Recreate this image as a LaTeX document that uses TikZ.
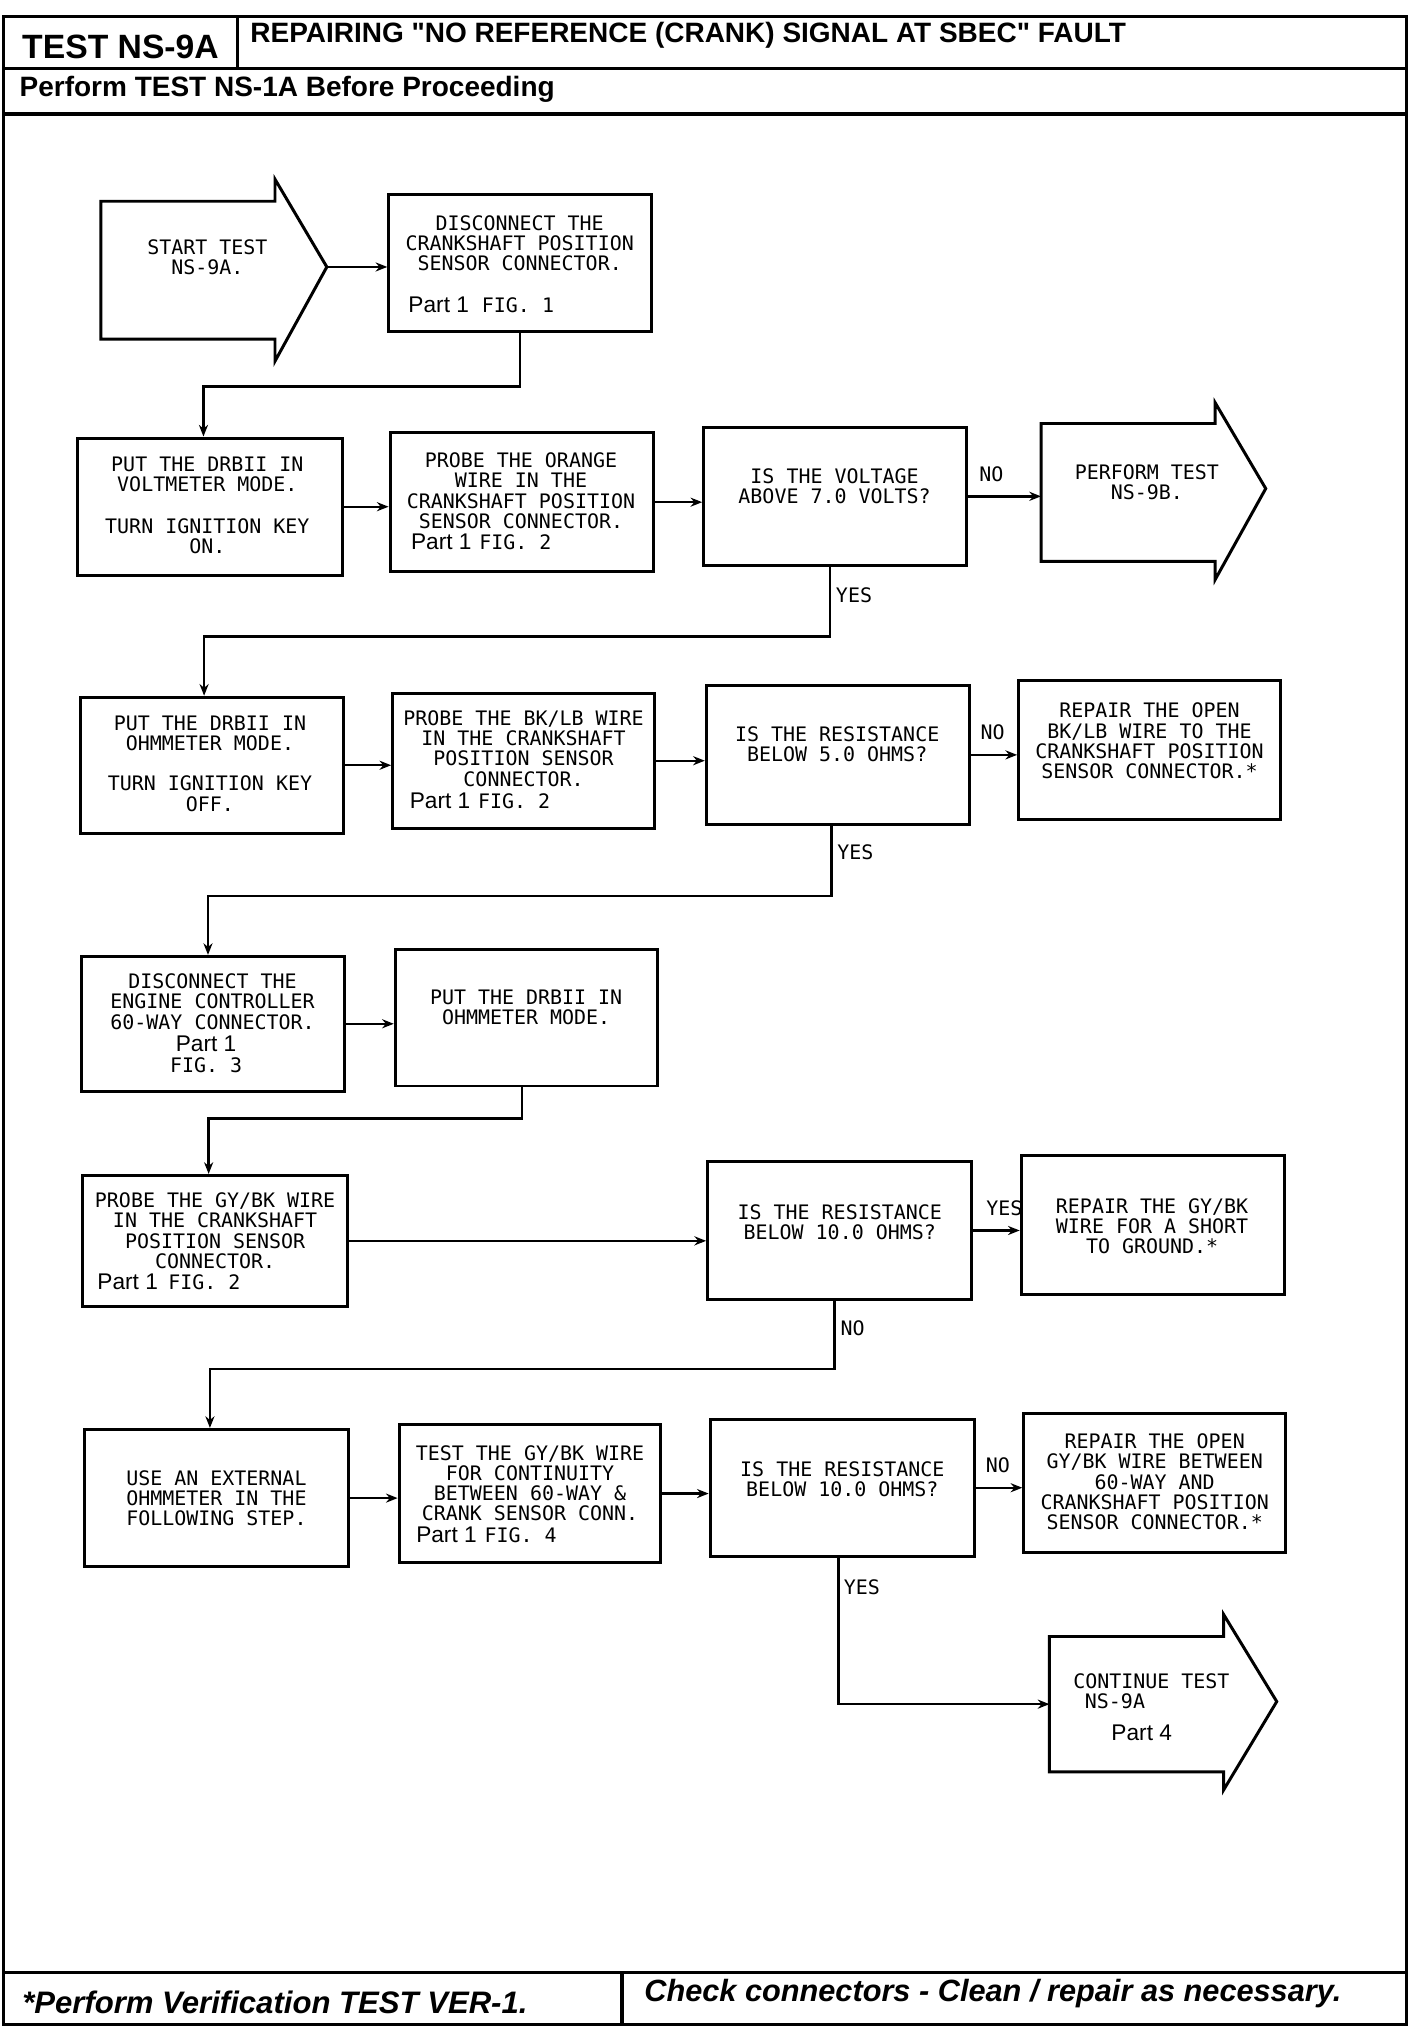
\documentclass[tikz,border=0pt]{standalone}
\usepackage{fontspec}
\setmainfont{Liberation Sans}
\newfontfamily\monofam{DejaVu Sans Mono}
\newfontfamily\titlefam{Liberation Sans}[Ligatures=TeXOff]
\usetikzlibrary{arrows.meta,calc}
\newcommand\boxfont{\monofam\fontsize{15.4}{15.5}\selectfont}
\newcommand\partfont{\rmfamily\fontsize{17.5}{17.5}\selectfont}
\tikzset{
  frameline/.style={line width=2.4pt},
  box/.style={draw, line width=2.3pt, inner sep=0pt, minimum width=#1},
  box/.default=203pt,
  ghost/.style={inner sep=0pt, minimum width=134pt, minimum height=106pt},
  shapeline/.style={line width=2.3pt, line join=miter},
  txt/.style={font=\boxfont, align=center, inner sep=0pt, anchor=north},
  partline/.style={font=\boxfont, inner sep=0pt, anchor=base west},
  lbl/.style={font=\boxfont, inner sep=0pt},
  arr/.style={line width=1.8pt, -{Stealth[length=9pt,width=7pt]}},
}
\begin{document}
\begin{tikzpicture}[x=1pt,y=-1pt]
\useasboundingbox (0,0) rectangle (1099,1568);
% frame
\draw[frameline] (3,13) rectangle (1085,1562);
\draw[frameline] (3,53) -- (1085,53);
\draw[frameline] (3,88) -- (1085,88);
\draw[frameline] (183,13) -- (183,53);
\draw[frameline] (3,1522) -- (1085,1522);
\draw[frameline] (480,1522) -- (480,1562);
\node[inner sep=0pt, font=\bfseries\fontsize{26}{26}\selectfont] (t1) at (93,36) {TEST NS-9A};
\node[inner sep=0pt, anchor=west, font=\titlefam\bfseries\fontsize{21.6}{21.6}\selectfont] (t2) at (193,27) {REPAIRING "NO REFERENCE (CRANK) SIGNAL AT SBEC" FAULT};
\node[inner sep=0pt, anchor=west, font=\bfseries\fontsize{21.6}{21.6}\selectfont] (t3) at (15,69) {Perform TEST NS-1A Before Proceeding};
\node[inner sep=0pt, anchor=west, font=\bfseries\itshape\fontsize{24}{24}\selectfont] (f1) at (17,1545) {*Perform Verification TEST VER-1.};
\node[inner sep=0pt, anchor=west, font=\bfseries\itshape\fontsize{23.7}{23.7}\selectfont] (f2) at (497,1538) {Check connectors - Clean / repair as necessary.};

% start arrow
\node[ghost] (s) at (145,208.5) {};
\coordinate (stip) at ($(s.east)+(40,-2.5)$);
\draw[shapeline] (s.north west) -- (s.north east) -- ++(0,-17) -- (stip) -- ($(s.south east)+(0,17)$) -- (s.south east) -- (s.south west) -- cycle;
\node[txt] (st) at (160,184.4) {START TEST\\NS-9A.};

% boxes
\node[box, minimum height=106pt] (b2) at (401.5,203) {};
\node[txt] (b2t) at (401,166.4) {DISCONNECT THE\\CRANKSHAFT POSITION\\SENSOR CONNECTOR.};
\node[partline] (b2p) at (315,241) {{\partfont Part 1}\hspace{10pt}FIG. 1};

\node[box=204pt, minimum height=106pt] (b4) at (162,391) {};
\node[txt] (b4t) at (160,352.4) {PUT THE DRBII IN\\VOLTMETER MODE.\\[16.5pt]TURN IGNITION KEY\\ON.};

\node[box, minimum height=107pt] (b5) at (402.5,387.5) {};
\node[txt] (b5t) at (402,349.4) {PROBE THE ORANGE\\WIRE IN THE\\CRANKSHAFT POSITION\\SENSOR CONNECTOR.};
\node[partline] (b5p) at (317,424) {{\partfont Part 1}\hspace{6pt}FIG. 2};

\node[box, minimum height=106pt] (b6) at (644.5,383) {};
\node[txt] (b6t) at (644,361.4) {IS THE VOLTAGE\\ABOVE 7.0 VOLTS?};

\node[ghost] (a7) at (870.5,380) {};
\coordinate (a7tip) at ($(a7.east)+(39,-3)$);
\draw[shapeline] (a7.north west) -- (a7.north east) -- ++(0,-16) -- (a7tip) -- ($(a7.south east)+(0,14)$) -- (a7.south east) -- (a7.south west) -- cycle;
\node[txt] (a7t) at (885,358.4) {PERFORM TEST\\NS-9B.};

\node[box, minimum height=105pt] (b9) at (163.5,590.5) {};
\node[txt] (b9t) at (162,552.4) {PUT THE DRBII IN\\OHMMETER MODE.\\[15.5pt]TURN IGNITION KEY\\OFF.};

\node[box=202pt, minimum height=104pt] (b10) at (404,587) {};
\node[txt] (b10t) at (404,548.4) {PROBE THE BK/LB WIRE\\IN THE CRANKSHAFT\\POSITION SENSOR\\CONNECTOR.};
\node[partline] (b10p) at (316,624) {{\partfont Part 1}\hspace{6pt}FIG. 2};

\node[box, minimum height=107pt] (b11) at (646.5,582.5) {};
\node[txt] (b11t) at (646,560.4) {IS THE RESISTANCE\\BELOW 5.0 OHMS?};

\node[box=202pt, minimum height=107pt] (b12) at (887,578.5) {};
\node[txt] (b12t) at (887,542.4) {REPAIR THE OPEN\\BK/LB WIRE TO THE\\CRANKSHAFT POSITION\\SENSOR CONNECTOR.*};

\node[box, minimum height=104pt] (b14) at (164.5,790) {};
\node[txt] (b14t) at (164,751.4) {DISCONNECT THE\\ENGINE CONTROLLER\\60-WAY CONNECTOR.};
\node[txt] (b14p) at (159,799.5) {{\partfont Part 1}\\FIG. 3};

\node[box=202pt, minimum height=105pt] (b15) at (406,785.5) {};
\node[txt] (b15t) at (406,763.4) {PUT THE DRBII IN\\OHMMETER MODE.};

\node[box=204pt, minimum height=101pt] (b17) at (166,957.5) {};
\node[txt] (b17t) at (166,920.4) {PROBE THE GY/BK WIRE\\IN THE CRANKSHAFT\\POSITION SENSOR\\CONNECTOR.};
\node[partline] (b17p) at (75,995) {{\partfont Part 1}\hspace{8pt}FIG. 2};

\node[box=204pt, minimum height=107pt] (b18) at (648,949.5) {};
\node[txt] (b18t) at (648,929.4) {IS THE RESISTANCE\\BELOW 10.0 OHMS?};

\node[box, minimum height=107pt] (b19) at (889.5,945.5) {};
\node[txt] (b19t) at (889,924.4) {REPAIR THE GY/BK\\WIRE FOR A SHORT\\TO GROUND.*};

\node[box=204pt, minimum height=106pt] (b21) at (167,1156) {};
\node[txt] (b21t) at (167,1134.4) {USE AN EXTERNAL\\OHMMETER IN THE\\FOLLOWING STEP.};

\node[box=202pt, minimum height=107pt] (b22) at (409,1152.5) {};
\node[txt] (b22t) at (409,1115.4) {TEST THE GY/BK WIRE\\FOR CONTINUITY\\BETWEEN 60-WAY \&\\CRANK SENSOR CONN.};
\node[partline] (b22p) at (321,1190) {{\partfont Part 1}\hspace{6pt}FIG. 4};

\node[box=204pt, minimum height=106pt] (b23) at (650,1148) {};
\node[txt] (b23t) at (650,1127.4) {IS THE RESISTANCE\\BELOW 10.0 OHMS?};

\node[box=202pt, minimum height=107pt] (b24) at (891,1144.5) {};
\node[txt] (b24t) at (891,1106.4) {REPAIR THE OPEN\\GY/BK WIRE BETWEEN\\60-WAY AND\\CRANKSHAFT POSITION\\SENSOR CONNECTOR.*};

\node[ghost, minimum height=104pt] (a26) at (877,1315) {};
\coordinate (a26tip) at ($(a26.east)+(41,-2)$);
\draw[shapeline] (a26.north west) -- (a26.north east) -- ++(0,-17) -- (a26tip) -- ($(a26.south east)+(0,14)$) -- (a26.south east) -- (a26.south west) -- cycle;
\node[txt, anchor=north west, align=left] (a26t) at (828,1291.4) {CONTINUE TEST\\\hspace*{9pt}NS-9A};
\node[inner sep=0pt, font=\partfont] (a26p) at (881,1337) {Part 4};

% connectors
\draw[arr] (stip) -- (stip -| b2.west);
\draw[arr] (b2.south) -- ++(0,41) -| ([xshift=-5pt]b4.north);
\draw[arr] (b4.east) -- (b4.east -| b5.west);
\draw[arr] (b5.east) -- (b5.east -| b6.west);
\draw[arr] (b6.east) -- (b6.east -| a7.west);
\draw[arr] ([xshift=-4pt]b6.south) -- ++(0,54) -| ([xshift=-6pt]b9.north);
\draw[arr] (b9.east) -- (b9.east -| b10.west);
\draw[arr] (b10.east) -- (b10.east -| b11.west);
\draw[arr] (b11.east) -- (b11.east -| b12.west);
\draw[arr] ([xshift=-5pt]b11.south) -- ++(0,54) -| ([xshift=-4pt]b14.north);
\draw[arr] (b14.east) -- (b14.east -| b15.west);
\draw[arr] ([xshift=-3pt]b15.south) -- ++(0,24) -| ([xshift=-5pt]b17.north);
\draw[arr] (b17.east) -- (b17.east -| b18.west);
\draw[arr] (b18.east) -- (b18.east -| b19.west);
\draw[arr] ([xshift=-4pt]b18.south) -- ++(0,52) -| ([xshift=-5pt]b21.north);
\draw[arr] (b21.east) -- (b21.east -| b22.west);
\draw[arr] (b22.east) -- (b22.east -| b23.west);
\draw[arr] (b23.east) -- (b23.east -| b24.west);
\draw[arr] ([xshift=-3pt]b23.south) |- (a26.west);

% labels
\node[lbl] (l1) at (765,366) {NO};
\node[lbl] (l2) at (659,459) {YES};
\node[lbl] (l3) at (766,565) {NO};
\node[lbl] (l4) at (660,658) {YES};
\node[lbl] (l5) at (775,932) {YES};
\node[lbl] (l6) at (658,1025) {NO};
\node[lbl] (l7) at (770,1131) {NO};
\node[lbl] (l8) at (665,1225) {YES};
\end{tikzpicture}
\end{document}
